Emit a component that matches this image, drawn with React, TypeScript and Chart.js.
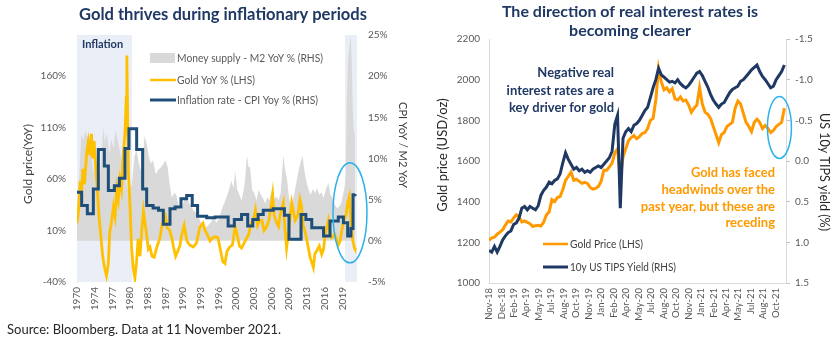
import React, { useEffect, useRef } from "react";
import { Chart, registerables } from "chart.js";
Chart.register(...registerables);

const FONT = "Lato, 'Open Sans', sans-serif";

// ---------- Left chart data ----------
const leftTickLabels = ["1970", "1974", "1977", "1980", "1983", "1987", "1990", "1993", "1996", "2000", "2003", "2006", "2009", "2013", "2016", "2019"];
const leftTickStart = 1970;
const leftTickStep = 3.3;
const lhsTicks = [-40, 10, 60, 110, 160];

const goldYoyYears = [
  1970.0, 1970.3, 1970.6, 1970.8, 1971.1, 1971.4, 1971.8, 1972.1, 1972.4, 1972.7, 1972.9, 1973.2, 1973.5, 1973.8, 1974.1, 1974.5, 1974.8, 1975.1, 1975.5, 1975.85, 1976.1, 1976.4, 1976.8, 1977.1, 1977.4, 1977.7, 1978.0, 1978.3, 1978.6, 1978.95, 1979.2, 1979.3, 1979.45, 1979.6, 1979.9,
  1980.2, 1980.5, 1980.8, 1981.1, 1981.4, 1981.75, 1982.1, 1982.4, 1982.7, 1983.0, 1983.3, 1983.6, 1984.0, 1984.4, 1984.9, 1985.5, 1985.9, 1986.2, 1986.5, 1986.8, 1987.3, 1987.7, 1988.0, 1988.4, 1988.8, 1989.2, 1989.5,
  1990.0, 1990.5, 1991.0, 1991.7, 1992.3, 1992.9, 1993.5, 1993.9, 1994.4, 1994.8, 1995.3, 1995.8, 1996.3, 1996.8, 1997.2, 1997.6, 1998.0, 1998.5, 1999.0, 1999.5, 1999.8,
  2000.3, 2000.7, 2001.2, 2001.7, 2002.0, 2002.5, 2003.0, 2003.3, 2003.7, 2004.1, 2004.5, 2004.9, 2005.4, 2005.8, 2006.3, 2006.5, 2006.8, 2007.2, 2007.6, 2007.9, 2008.5, 2008.8, 2009.1, 2009.5,
  2010.05, 2010.4, 2010.7, 2011.2, 2011.6, 2011.9, 2012.2, 2012.5, 2012.9, 2013.5, 2014.1, 2014.4, 2014.7, 2015.2, 2015.65, 2016.0, 2016.3, 2016.9, 2017.2, 2017.5, 2018.1, 2018.75, 2019.1, 2019.4, 2019.8,
  2020.2, 2020.5, 2020.8, 2021.1, 2021.4, 2021.75, 2021.86,
];
const goldYoyValues = [
  17, 30, 58, 42, 70, 55, 85, 96, 83, 104, 80, 97, 70, 50, 24, 2, -15, -25, -34, -22, 8, 17, 33, 24, 50, 40, 59, 50, 82, 105, 140, 180, 120, 65, 33,
  -8, -27, -36, -21, 2, -15, 11, 29, 17, 6, -8, -6, -15, -16, -6, 3, 17, 20, 24, 13, 10, 3, -6, -15, -10, -5, 5,
  15, 0, -4, -6, -2, 13, 17, 10, 5, 0, 3, 4, 3, -10, -20, -22, -10, -6, -4, 14, 8,
  -5, -7, -2, 3, 6, 17, 22, 30, 15, 20, 20, 10, 14, 20, 37, 45, 25, 18, 14, 25, 37, 12, -7, 10,
  37, 28, 20, 25, 40, 33, 15, 10, 0, -16, -26, -12, -10, -5, -13, -8, 6, 20, 8, 3, 6, -4, 0, 10, 20,
  25, 37, 43, 20, 2, -7, -8,
];

const cpiYears = [1970.0, 1970.87, 1971.93, 1973.05, 1973.98, 1975.1, 1975.85, 1976.97, 1977.9, 1978.95, 1979.7, 1981.13, 1982.25, 1983.0, 1984.2, 1985.2, 1986.1, 1987.35, 1988.3, 1989.4, 1990.46, 1991.5, 1992.5, 1994.2, 1995.75, 1998.2, 1999.35, 2000.7, 2001.85, 2002.8, 2003.8, 2004.75, 2006.6, 2008.7, 2009.55, 2011.8, 2012.7, 2013.8, 2016.0, 2017.2, 2018.75, 2019.7, 2020.5, 2021.1, 2021.5, 2021.86];
const cpiValues = [5.9, 4.3, 3.3, 6.3, 11.1, 9.1, 6.1, 6.7, 7.6, 11.2, 13.6, 11.1, 6.3, 4.3, 4.0, 3.7, 2.0, 3.9, 4.1, 5.1, 5.5, 4.3, 3.0, 2.8, 2.9, 1.8, 2.6, 3.2, 1.8, 2.6, 3.2, 3.7, 3.9, 3.1, 0.2, 3.2, 2.6, 1.6, 0.6, 2.4, 2.9, 2.2, 0.6, 1.5, 5.6, 5.7];

const m2Years = [
  1970.0, 1970.4, 1970.8, 1971.2, 1971.5, 1971.9, 1972.3, 1972.7, 1973.1, 1973.5, 1973.9, 1974.4, 1974.9, 1975.2, 1975.6, 1976.0, 1976.4, 1976.8, 1977.2, 1977.6, 1978.0, 1978.5, 1978.9, 1979.4, 1979.8,
  1980.2, 1980.7, 1981.1, 1981.5, 1981.9, 1982.3, 1982.6, 1983.0, 1983.4, 1983.8, 1984.2, 1984.7, 1985.1, 1985.6, 1986.0, 1986.5, 1986.9, 1987.3, 1987.7, 1988.2, 1988.6, 1989.0, 1989.5,
  1990.0, 1990.4, 1990.9, 1991.3, 1991.7, 1992.2, 1992.7, 1993.3, 1993.9, 1994.5, 1995.0, 1995.5, 1996.0, 1996.5, 1997.0, 1997.5, 1998.0, 1998.4, 1998.8, 1999.2, 1999.5, 1999.9,
  2000.3, 2000.7, 2001.1, 2001.35, 2001.7, 2002.0, 2002.3, 2002.7, 2003.1, 2003.5, 2003.9, 2004.3, 2004.7, 2005.1, 2005.5, 2005.9, 2006.3, 2006.8, 2007.2, 2007.6, 2008.0, 2008.5, 2008.8, 2009.2, 2009.6,
  2010.0, 2010.5, 2010.9, 2011.3, 2011.7, 2012.1, 2012.4, 2012.8, 2013.2, 2013.6, 2014.0, 2014.4, 2014.8, 2015.2, 2015.6, 2016.0, 2016.5, 2016.9, 2017.3, 2017.7, 2018.1, 2018.5, 2018.9, 2019.3, 2019.7,
  2020.0, 2020.15, 2020.35, 2020.55, 2020.8, 2021.05, 2021.25, 2021.45, 2021.65, 2021.86,
];
const m2Values = [
  4.5, 7.5, 13.0, 12.2, 13.4, 12.6, 12.8, 10.2, 8.1, 9.6, 7.6, 8.4, 13.8, 12.0, 13.1, 10.5, 12.4, 11.2, 13.4, 12.1, 11.0, 8.6, 8.1, 6.2, 7.0,
  6.5, 10.2, 11.0, 9.6, 8.5, 9.5, 12.8, 11.8, 10.2, 9.4, 9.8, 8.1, 8.6, 8.9, 9.2, 9.8, 9.0, 6.8, 5.2, 5.9, 5.4, 4.2, 3.7,
  5.0, 5.3, 4.6, 4.2, 3.7, 3.4, 2.8, 2.0, 1.6, 1.9, 2.3, 2.8, 2.2, 2.7, 3.8, 4.6, 5.5, 6.3, 7.3, 6.4, 8.5, 6.2,
  5.6, 4.9, 6.2, 7.3, 10.4, 9.0, 8.9, 6.1, 5.8, 4.9, 6.2, 5.6, 5.2, 4.5, 5.3, 4.9, 6.1, 5.0, 5.4, 4.9, 5.8, 10.4, 8.8, 7.4, 5.0,
  4.2, 5.6, 7.0, 8.4, 9.5, 10.3, 8.6, 7.2, 6.2, 5.6, 6.3, 5.8, 6.4, 5.6, 5.9, 5.2, 6.4, 7.0, 5.6, 5.2, 4.4, 4.0, 4.1, 4.6, 5.8,
  6.8, 8.0, 17.0, 22.0, 23.5, 25.0, 22.0, 16.0, 13.5, 12.8,
];

// ---------- Right chart data (three readings per month from mid-Nov 2018) ----------
const rightTickLabels = ["Nov-18", "Dec-18", "Feb-19", "Apr-19", "May-19", "Jul-19", "Aug-19", "Oct-19", "Nov-19", "Jan-20", "Feb-20", "Apr-20", "May-20", "Jul-20", "Aug-20", "Oct-20", "Nov-20", "Jan-21", "Feb-21", "Apr-21", "May-21", "Jul-21", "Aug-21", "Oct-21"];
const rightTickStepMonths = 1.52;
const pointsPerMonth = 3;

const goldPrice = [
  1210, 1222, 1225, 1240, 1250, 1262, 1285, 1305, 1300, 1320, 1335, 1325,
  1300, 1305, 1298, 1292, 1278, 1282, 1284, 1280, 1300, 1335, 1350, 1410,
  1400, 1420, 1425, 1460, 1505, 1525, 1545, 1505, 1510, 1500, 1490, 1495,
  1490, 1470, 1462, 1465, 1475, 1500, 1555, 1555, 1570, 1590, 1640, 1660,
  1520, 1620, 1660, 1700, 1715, 1725, 1710, 1720, 1735, 1740, 1760, 1800,
  1810, 1900, 2055, 1990, 1950, 1960, 1940, 1955, 1905, 1900, 1915, 1895,
  1900, 1875, 1840, 1860, 1875, 1960, 1880, 1840, 1830, 1810, 1770, 1730,
  1690, 1730, 1740, 1770, 1780, 1790, 1860, 1895, 1880, 1835, 1790, 1770,
  1745, 1790, 1805, 1790, 1760, 1775, 1760, 1740, 1750, 1770, 1780, 1790,
  1860,
];
const tipsYield = [
  1.10, 1.12, 1.05, 1.12, 1.05, 0.97, 0.92, 0.88, 0.86, 0.78, 0.76, 0.70,
  0.58, 0.56, 0.60, 0.56, 0.58, 0.60, 0.55, 0.42, 0.36, 0.32, 0.26, 0.28,
  0.24, 0.22, 0.16, 0.02, -0.10, -0.02, 0.04, 0.10, 0.08, 0.12, 0.10, 0.14,
  0.12, 0.14, 0.10, 0.08, 0.06, 0.08, 0.04, 0.00, -0.04, -0.12, -0.45, -0.56,
  0.58, -0.28, -0.36, -0.40, -0.36, -0.44, -0.46, -0.50, -0.56, -0.62, -0.66, -0.78,
  -0.90, -1.00, -1.14, -1.06, -1.03, -1.00, -0.97, -0.98, -0.96, -1.00, -0.95, -0.92,
  -0.90, -0.93, -0.98, -1.03, -1.08, -1.10, -1.05, -0.98, -0.91, -0.82, -0.75, -0.70,
  -0.66, -0.70, -0.72, -0.78, -0.84, -0.88, -0.90, -0.92, -0.98, -1.00, -1.04, -1.08,
  -1.12, -1.15, -1.18, -1.10, -1.04, -1.00, -0.95, -0.90, -0.92, -1.00, -1.05, -1.10,
  -1.18,
];

// ---------- colours ----------
const NAVY_TITLE = "#1F3864";
const GOLD_YOY = "#FFC000";
const CPI_NAVY = "#1F4E79";
const M2_GREY = "#D9D9D9";
const SHADE = "#E9EEF7";
const ORANGE = "#FF9900";
const TIPS_NAVY = "#1F3864";
const AXIS_TXT = "#595959";

function drawText(ctx: CanvasRenderingContext2D, s: string, x: number, y: number, font: string, color: string, align: CanvasTextAlign = "left", maxW?: number) {
  ctx.font = font;
  ctx.fillStyle = color;
  ctx.textAlign = align;
  ctx.textBaseline = "middle";
  if (maxW) ctx.fillText(s, x, y, maxW);
  else ctx.fillText(s, x, y);
}
function drawRotated(ctx: CanvasRenderingContext2D, s: string, x: number, y: number, angle: number, font: string, color: string, maxW?: number) {
  ctx.save();
  ctx.translate(x, y);
  ctx.rotate(angle);
  drawText(ctx, s, 0, 0, font, color, "center", maxW);
  ctx.restore();
}

const tickFont = { family: FONT, size: 10 };

function leftConfig(): any {
  const decor = {
    id: "leftDecor",
    beforeDatasetsDraw(chart: any) {
      const { ctx, chartArea: a, scales } = chart;
      const x = scales.x;
      ctx.save();
      ctx.fillStyle = SHADE;
      const x0 = x.getPixelForValue(1970), x1 = x.getPixelForValue(1980.26);
      ctx.fillRect(x0, a.top, x1 - x0, a.bottom - a.top);
      const x2 = x.getPixelForValue(2020.0);
      ctx.fillRect(x2, a.top, a.right - x2, a.bottom - a.top);
      ctx.restore();
    },
    afterDraw(chart: any) {
      const { ctx, scales } = chart;
      const x = scales.x, yR = scales.yR;
      ctx.save();
      drawText(ctx, "Gold thrives during inflationary periods", 223, 15, `bold 17px ${FONT}`, NAVY_TITLE, "center", 288);
      drawText(ctx, "Inflation", 82, 44, `bold 11px ${FONT}`, NAVY_TITLE, "left");
      // legend
      ctx.fillStyle = M2_GREY;
      ctx.fillRect(150, 53, 25, 10);
      ctx.lineCap = "butt";
      ctx.strokeStyle = GOLD_YOY; ctx.lineWidth = 2.5;
      ctx.beginPath(); ctx.moveTo(150, 80); ctx.lineTo(176, 80); ctx.stroke();
      ctx.strokeStyle = CPI_NAVY; ctx.lineWidth = 3;
      ctx.beginPath(); ctx.moveTo(150, 100); ctx.lineTo(176, 100); ctx.stroke();
      drawText(ctx, "Money supply - M2 YoY % (RHS)", 177, 58, `11px ${FONT}`, AXIS_TXT, "left", 146);
      drawText(ctx, "Gold YoY % (LHS)", 177, 80, `11px ${FONT}`, AXIS_TXT, "left", 78);
      drawText(ctx, "Inflation rate - CPI Yoy % (RHS)", 177, 100, `11px ${FONT}`, AXIS_TXT, "left", 141);
      // axis titles
      drawRotated(ctx, "Gold price(YoY)", 28, 164, -Math.PI / 2, `12px ${FONT}`, "#404040", 80);
      drawRotated(ctx, "CPI YoY / M2 YoY", 403, 145, Math.PI / 2, `12px ${FONT}`, "#404040", 86);
      // ellipse
      ctx.strokeStyle = "#2BB2EA"; ctx.lineWidth = 1.5;
      ctx.beginPath();
      ctx.ellipse(x.getPixelForValue(2020.93), yR.getPixelForValue(3.4), 17, 50, 0, 0, Math.PI * 2);
      ctx.stroke();
      drawText(ctx, "Source: Bloomberg. Data at 11 November 2021.", 7, 330, `13px ${FONT}`, "#262626", "left", 291);
      ctx.restore();
    },
  };

  return {
    type: "line",
    data: {
      datasets: [
        {
          label: "Inflation rate - CPI Yoy % (RHS)",
          data: cpiYears.map((yr, i) => ({ x: yr, y: cpiValues[i] })),
          yAxisID: "yR", borderColor: CPI_NAVY, borderWidth: 3, stepped: true, pointRadius: 0, fill: false, order: 0,
        },
        {
          label: "Gold YoY % (LHS)",
          data: goldYoyYears.map((yr, i) => ({ x: yr, y: goldYoyValues[i] })),
          yAxisID: "yL", borderColor: GOLD_YOY, borderWidth: 2.8, pointRadius: 0, tension: 0, fill: false, order: 1,
        },
        {
          label: "Money supply - M2 YoY % (RHS)",
          data: m2Years.map((yr, i) => ({ x: yr, y: m2Values[i] })),
          yAxisID: "yR", borderWidth: 0, borderColor: M2_GREY, backgroundColor: M2_GREY, pointRadius: 0, fill: "origin", order: 2,
        },
      ],
    },
    options: {
      animation: false, responsive: false, devicePixelRatio: 1,
      layout: { padding: { top: 35, left: 0, right: 0, bottom: 0 } },
      plugins: { legend: { display: false }, tooltip: { enabled: false }, title: { display: false } },
      scales: {
        x: {
          type: "linear", min: 1970, max: 2022.24,
          afterBuildTicks: (s: any) => { s.ticks = leftTickLabels.map((_, i) => ({ value: leftTickStart + i * leftTickStep })); },
          afterFit: (s: any) => { s.height = 60; },
          ticks: { autoSkip: false, minRotation: 90, maxRotation: 90, padding: 5, color: AXIS_TXT, font: tickFont, callback: (_v: any, i: number) => leftTickLabels[i] },
          grid: { display: false, drawTicks: false }, border: { display: false },
        },
        yL: {
          position: "left", min: -40, max: 200,
          afterBuildTicks: (s: any) => { s.ticks = lhsTicks.map((v) => ({ value: v })); },
          afterFit: (s: any) => { s.width = 77; },
          ticks: { padding: 11, color: AXIS_TXT, font: tickFont, callback: (v: any) => `${v}%` },
          grid: { display: false, drawTicks: false }, border: { display: true, color: "#D9D9D9", width: 1 },
        },
        yR: {
          position: "right", min: -5, max: 25,
          afterFit: (s: any) => { s.width = 63; },
          ticks: { stepSize: 5, padding: 11, color: AXIS_TXT, font: tickFont, callback: (v: any) => `${v}%` },
          grid: { display: false, drawTicks: false }, border: { display: false },
        },
      },
    },
    plugins: [decor],
  };
}

function rightConfig(): any {
  const decor = {
    id: "rightDecor",
    afterDraw(chart: any) {
      const { ctx } = chart;
      ctx.save();
      drawText(ctx, "The direction of real interest rates is", 210, 12, `bold 16px ${FONT}`, NAVY_TITLE, "center", 264);
      drawText(ctx, "becoming clearer", 210, 31, `bold 16px ${FONT}`, NAVY_TITLE, "center", 127);
      const nf = `bold 13px ${FONT}`;
      drawText(ctx, "Negative real", 194, 73, nf, NAVY_TITLE, "right", 77);
      drawText(ctx, "interest rates are a", 194, 91, nf, NAVY_TITLE, "right", 109);
      drawText(ctx, "key driver for gold", 194, 108, nf, NAVY_TITLE, "right", 105);
      drawText(ctx, "Gold has faced", 355, 173, nf, ORANGE, "right", 84);
      drawText(ctx, "headwinds over the", 355, 190, nf, ORANGE, "right", 114);
      drawText(ctx, "past year, but these are", 355, 207, nf, ORANGE, "right", 135);
      drawText(ctx, "receding", 355, 223, nf, ORANGE, "right", 51);
      ctx.lineCap = "butt";
      ctx.strokeStyle = ORANGE; ctx.lineWidth = 2.5;
      ctx.beginPath(); ctx.moveTo(123, 244); ctx.lineTo(148, 244); ctx.stroke();
      ctx.strokeStyle = TIPS_NAVY; ctx.lineWidth = 3;
      ctx.beginPath(); ctx.moveTo(123, 267); ctx.lineTo(148, 267); ctx.stroke();
      drawText(ctx, "Gold Price (LHS)", 150, 244, `11px ${FONT}`, "#404040", "left", 73);
      drawText(ctx, "10y US TIPS Yield (RHS)", 150, 267, `11px ${FONT}`, "#404040", "left", 106);
      drawRotated(ctx, "Gold price (USD/oz)", 23, 155, -Math.PI / 2, `13px ${FONT}`, "#262626", 114);
      drawRotated(ctx, "US 10y TIPS yield (%)", 404, 172, Math.PI / 2, `13px ${FONT}`, "#262626", 118);
      const { scales } = chart;
      ctx.strokeStyle = "#2BB2EA"; ctx.lineWidth = 1.5;
      ctx.beginPath();
      ctx.ellipse(scales.x.getPixelForValue(35.4), scales.yL.getPixelForValue(1765), 12, 31, 0, 0, Math.PI * 2);
      ctx.stroke();
      ctx.restore();
    },
  };
  return {
    type: "line",
    data: {
      datasets: [
        {
          label: "10y US TIPS Yield (RHS)",
          data: tipsYield.map((v, i) => ({ x: i / pointsPerMonth, y: v })),
          yAxisID: "yR", borderColor: TIPS_NAVY, borderWidth: 3, pointRadius: 0, tension: 0, fill: false, order: 0,
        },
        {
          label: "Gold Price (LHS)",
          data: goldPrice.map((v, i) => ({ x: i / pointsPerMonth, y: v })),
          yAxisID: "yL", borderColor: ORANGE, borderWidth: 3, pointRadius: 0, tension: 0, fill: false, order: 1,
        },
      ],
    },
    options: {
      animation: false, responsive: false, devicePixelRatio: 1,
      layout: { padding: { top: 39, left: 0, right: 0, bottom: 0 } },
      plugins: { legend: { display: false }, tooltip: { enabled: false }, title: { display: false } },
      scales: {
        x: {
          type: "linear", min: 0, max: 36.2,
          afterBuildTicks: (s: any) => { s.ticks = rightTickLabels.map((_, i) => ({ value: i * rightTickStepMonths })); },
          afterFit: (s: any) => { s.height = 59; },
          ticks: { autoSkip: false, minRotation: 90, maxRotation: 90, padding: 5, color: AXIS_TXT, font: { family: FONT, size: 9.5 }, callback: (_v: any, i: number) => rightTickLabels[i] },
          grid: { display: false, drawTicks: false }, border: { display: true, color: "#D9D9D9", width: 1 },
        },
        yL: {
          position: "left", min: 1000, max: 2200,
          afterFit: (s: any) => { s.width = 69; },
          ticks: { stepSize: 200, padding: 9, color: AXIS_TXT, font: tickFont, callback: (v: any) => String(v) },
          grid: { display: false, drawTicks: false }, border: { display: true, color: "#D9D9D9", width: 1 },
        },
        yR: {
          position: "right", min: -1.5, max: 1.5, reverse: true,
          afterFit: (s: any) => { s.width = 51; },
          ticks: { stepSize: 0.5, padding: 5, color: AXIS_TXT, font: tickFont, callback: (v: any) => Number(v).toFixed(1) },
          grid: { display: true, drawOnChartArea: false, drawTicks: true, tickLength: 4, color: "#BFBFBF" },
          border: { display: true, color: "#D9D9D9", width: 1 },
        },
      },
    },
    plugins: [decor],
  };
}

function ChartCanvas({ make, width, height, left }: { make: () => any; width: number; height: number; left: number }) {
  const ref = useRef<HTMLCanvasElement>(null);
  useEffect(() => {
    const chart = new Chart(ref.current as HTMLCanvasElement, make());
    return () => chart.destroy();
  }, []);
  return <canvas ref={ref} width={width} height={height} style={{ position: "absolute", left, top: 0, width, height }} />;
}

export default function App() {
  return (
    <div style={{ position: "absolute", left: 0, top: 0, width: 837, height: 342, background: "#ffffff", overflow: "hidden" }}>
      <ChartCanvas make={leftConfig} width={420} height={342} left={0} />
      <ChartCanvas make={rightConfig} width={417} height={342} left={420} />
    </div>
  );
}
